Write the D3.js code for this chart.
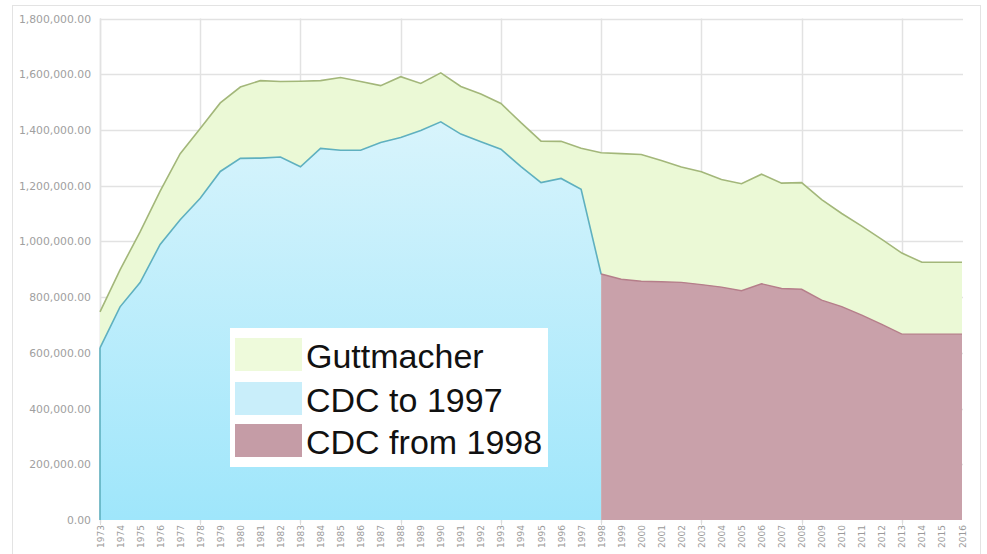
<!DOCTYPE html>
<html><head><meta charset="utf-8">
<script src="https://cdn.jsdelivr.net/npm/d3@7"></script>
<style>body{margin:0;background:#fff;}svg{display:block;}</style>
</head><body><svg id="c" width="987" height="554"></svg>
<script>
const years = d3.range(1973, 2017);
const guttmacher = [747000,898000,1034000,1180000,1315000,1405000,1497000,1554000,1577000,1574000,1575000,1577000,1588000,1574000,1559000,1591000,1567000,1605000,1556000,1529000,1495000,1426000,1360000,1359000,1334000,1318000,1315000,1312000,1290000,1267000,1250000,1222000,1207000,1241000,1209000,1211000,1150000,1100000,1055000,1007000,958000,925000,925000,925000];
const cdcTo1997Years = d3.range(1973, 1999);
const cdcTo1997 = [618000,765000,852000,989000,1078000,1155000,1251000,1298000,1299000,1303000,1268000,1334000,1327000,1327000,1355000,1373000,1398000,1429000,1385000,1358000,1331000,1268000,1211000,1226000,1187000,882000];
const cdcFrom1998Years = d3.range(1998, 2017);
const cdcFrom1998 = [883000,864000,857000,855000,853000,845000,836000,823000,848000,831000,828000,789000,766000,735000,702000,667000,667000,667000,667000];
const yTicks = [0,200000,400000,600000,800000,1000000,1200000,1400000,1600000,1800000];
const legendLabels = ["Guttmacher","CDC to 1997","CDC from 1998"];

const svg = d3.select("#c");
const x = d3.scaleLinear().domain([1973, 2016]).range([100, 962]);
const y = d3.scaleLinear().domain([0, 1800000]).range([520, 18.5]);

// outer frame
svg.append("rect").attr("x",12.5).attr("y",5.5).attr("width",968).attr("height",560)
  .attr("fill","none").attr("stroke","#e3e3e3").attr("stroke-width",1);

// gradient for blue
const defs = svg.append("defs");
const g1 = defs.append("linearGradient").attr("id","blueg")
  .attr("gradientUnits","userSpaceOnUse").attr("x1",0).attr("y1",y(1430000)).attr("x2",0).attr("y2",y(0));
g1.append("stop").attr("offset","0").attr("stop-color","#d8f4fc");
g1.append("stop").attr("offset","1").attr("stop-color","#9fe6fb");

// grid
const grid = svg.append("g");
yTicks.forEach(t => {
  if (t === 0) return;
  grid.append("line").attr("x1",100).attr("x2",963).attr("y1",Math.round(y(t))+0.5).attr("y2",Math.round(y(t))+0.5)
    .attr("stroke","#e2e2e2").attr("stroke-width",1.5);
});
years.filter(v => (v-1973)%5===0).forEach(v => {
  grid.append("line").attr("x1",Math.round(x(v))+0.5).attr("x2",Math.round(x(v))+0.5).attr("y1",y(1800000)).attr("y2",523)
    .attr("stroke","#e2e2e2").attr("stroke-width",1.5);
});
grid.append("line").attr("x1",100.5).attr("x2",100.5).attr("y1",y(1800000)).attr("y2",520).attr("stroke","#e2e2e2").attr("stroke-width",1.5);

const area = (xs) => d3.area().x((d,i)=>x(xs[i])).y0(y(0)).y1(d=>y(d));
const line = (xs) => d3.line().x((d,i)=>x(xs[i])).y(d=>y(d));

svg.append("path").datum(guttmacher).attr("d", area(years)).attr("fill","#ebf9d6");
svg.append("path").datum(guttmacher).attr("d", line(years)).attr("fill","none").attr("stroke","#a3b77a").attr("stroke-width",1.6);

svg.append("path").datum(cdcTo1997).attr("d", area(cdcTo1997Years)).attr("fill","url(#blueg)");
svg.append("path").datum(cdcTo1997).attr("d", line(cdcTo1997Years)).attr("fill","none").attr("stroke","#5fb0bf").attr("stroke-width",1.6);
svg.append("line").attr("x1",x(1973)).attr("x2",x(1973)).attr("y1",y(cdcTo1997[0])).attr("y2",y(0)).attr("stroke","#5fb0bf").attr("stroke-width",1.6);

svg.append("path").datum(cdcFrom1998).attr("d", area(cdcFrom1998Years)).attr("fill","#c9a1aa");
svg.append("path").datum(cdcFrom1998).attr("d", line(cdcFrom1998Years)).attr("fill","none").attr("stroke","#b57e8a").attr("stroke-width",1.4);

// y axis labels
const fmt = d3.format(",.2f");
svg.append("g").selectAll("text").data(yTicks).join("text")
  .attr("x",91).attr("y",d=>y(d)+4).attr("text-anchor","end")
  .attr("font-family","DejaVu Sans").attr("font-size",10.8).attr("fill","#a0a0a0").text(d=>fmt(d));

// x axis labels
svg.append("g").selectAll("text").data(years).join("text")
  .attr("transform",d=>`translate(${x(d)+3.5},525) rotate(-90)`).attr("text-anchor","end")
  .attr("font-family","DejaVu Sans").attr("font-size",9).attr("fill","#9a9a9a").text(d=>d);

// tick marks at grid positions
years.filter(v => (v-1973)%5===0).forEach(v => {
  svg.append("line").attr("x1",Math.round(x(v))+0.5).attr("x2",Math.round(x(v))+0.5).attr("y1",520).attr("y2",525).attr("stroke","#dcdcdc");
});

// legend
const lg = svg.append("g");
lg.append("rect").attr("x",230).attr("y",328).attr("width",318).attr("height",139).attr("fill","#ffffff");
const swc = ["#eefadb","#c9eefa","#c59ca6"];
const rowsY = [338,382,424];
legendLabels.forEach((t,i)=>{
  lg.append("rect").attr("x",235).attr("y",rowsY[i]).attr("width",67).attr("height",33).attr("fill",swc[i]);
  lg.append("text").attr("x",306).attr("y",rowsY[i]+30).attr("font-family","Liberation Sans, Arial").attr("font-size",34).attr("fill","#111").text(t);
});
</script></body></html>
